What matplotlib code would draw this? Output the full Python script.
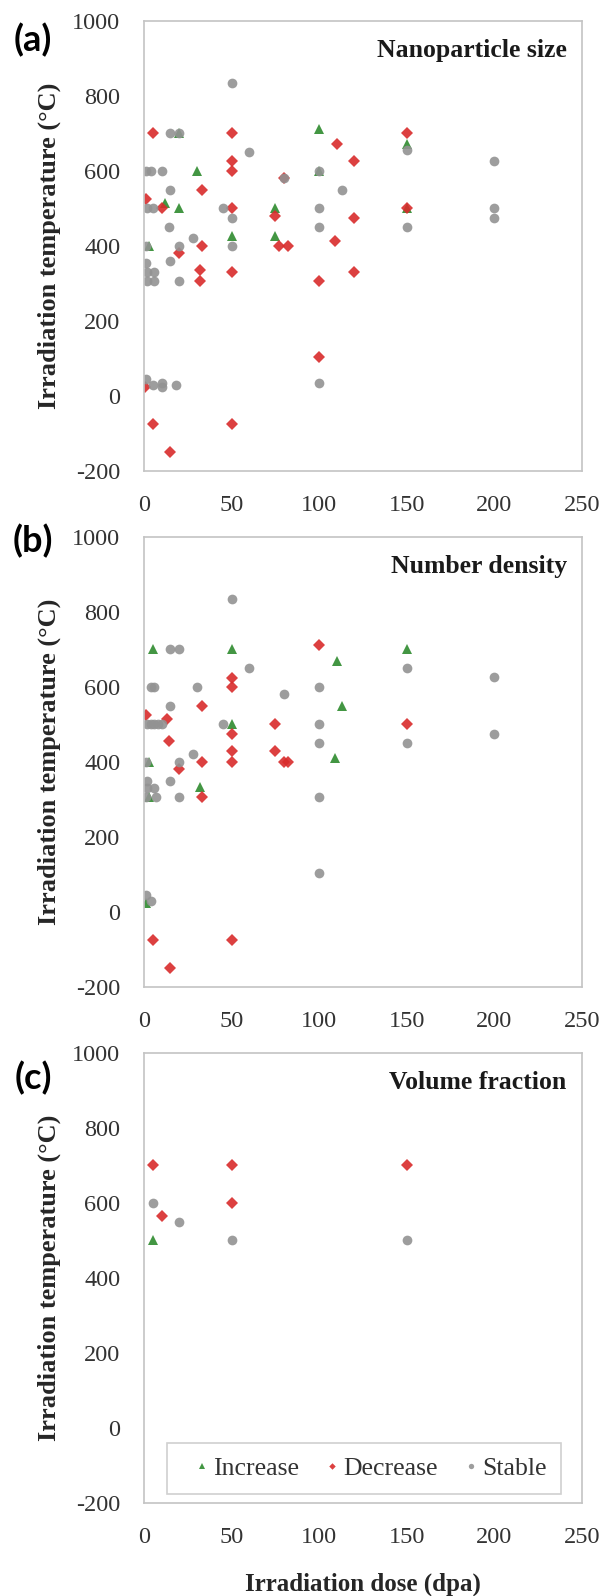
import matplotlib.pyplot as plt

plt.rcParams['axes.unicode_minus'] = False

# (a) Nanoparticle size
a_inc_dose = [20, 100, 30, 100, 12, 20, 75, 50, 75, 3, 150, 150]
a_inc_temp = [700, 710, 600, 600, 515, 500, 500, 425, 425, 400, 670, 500]
a_dec_dose = [5, 50, 110, 120, 50, 50, 33, 1, 10, 50, 75, 120, 109, 33, 77, 82, 20,
              32, 50, 120, 32, 100, 100, 0.5, 5, 50, 15, 150, 150, 80]
a_dec_temp = [700, 700, 670, 625, 625, 600, 550, 525, 500, 500, 480, 475, 412, 400, 400, 400, 380,
              335, 330, 330, 305, 305, 105, 25, -75, -75, -150, 700, 500, 580]
a_sta_dose = [50, 15, 20, 60, 1, 4, 10, 80, 100, 15, 113, 2, 5, 45, 50, 100, 14, 100, 28, 1,
              20, 50, 150, 200, 150, 200, 200, 1, 15, 2, 6, 2, 6, 20, 100, 1, 5, 10, 10, 18]
a_sta_temp = [835, 700, 700, 650, 600, 600, 600, 580, 600, 550, 550, 500, 500, 500, 475, 500, 450, 450, 420, 400,
              400, 400, 655, 625, 450, 500, 475, 355, 360, 330, 330, 305, 305, 305, 35, 45, 28, 35, 25, 28]

# (b) Number density
b_inc_dose = [5, 50, 110, 113, 50, 109, 3, 32, 3, 1, 150]
b_inc_temp = [700, 700, 668, 550, 500, 410, 400, 333, 305, 25, 700]
b_dec_dose = [100, 50, 50, 33, 1, 13, 50, 75, 14, 50, 75, 33, 50, 80, 82, 20, 33, 5, 50, 15, 150]
b_dec_temp = [710, 623, 600, 550, 525, 515, 475, 500, 455, 430, 430, 400, 400, 400, 400, 380, 305,
              -75, -75, -150, 500]
b_sta_dose = [50, 15, 20, 60, 4, 6, 30, 100, 80, 15, 2, 4, 6, 8, 10, 45, 100, 100, 28, 1, 20,
              2, 15, 2, 6, 1, 7, 20, 100, 100, 1, 4, 150, 200, 150, 200]
b_sta_temp = [835, 700, 700, 650, 600, 600, 600, 600, 580, 550, 500, 500, 500, 500, 500, 500, 500, 450, 420, 400, 400,
              350, 350, 330, 330, 305, 305, 305, 305, 105, 45, 28, 650, 625, 450, 475]

# (c) Volume fraction
c_inc_dose = [5]
c_inc_temp = [500]
c_dec_dose = [5, 50, 150, 50, 10]
c_dec_temp = [700, 700, 700, 600, 565]
c_sta_dose = [5, 20, 50, 150]
c_sta_temp = [600, 548, 500, 500]

titles = ['Nanoparticle size', 'Number density', 'Volume fraction']
letters = ['(a)', '(b)', '(c)']
x_ticks = [0, 50, 100, 150, 200, 250]
y_ticks = [-200, 0, 200, 400, 600, 800, 1000]

green = '#2e8b2e'
red = '#d92b2b'
grey = '#929292'
serif = 'Liberation Serif'

panels = [
    (a_inc_dose, a_inc_temp, a_dec_dose, a_dec_temp, a_sta_dose, a_sta_temp),
    (b_inc_dose, b_inc_temp, b_dec_dose, b_dec_temp, b_sta_dose, b_sta_temp),
    (c_inc_dose, c_inc_temp, c_dec_dose, c_dec_temp, c_sta_dose, c_sta_temp),
]
bottoms = [0.70489, 0.38158, 0.05827]
letter_y = [40, 541, 1078]

fig = plt.figure(figsize=(6.06, 15.96), dpi=100)

for i, p in enumerate(panels):
    ax = fig.add_axes([0.2376, bottoms[i], 0.7228, 0.2822])
    ax.plot(p[0], p[1], '^', color=green, ms=7.5, mew=0, alpha=0.9, label='Increase')
    ax.plot(p[2], p[3], 'D', color=red, ms=6, mew=0, alpha=0.9, label='Decrease')
    ax.plot(p[4], p[5], 'o', color=grey, ms=7, mew=0, alpha=0.9, label='Stable')
    ax.set_xlim(0, 250)
    ax.set_ylim(-200, 1000)
    ax.set_xticks(x_ticks)
    ax.set_yticks(y_ticks)
    ax.tick_params(length=0, labelsize=17.5, colors='#333333', pad=17)
    for lab in ax.get_xticklabels() + ax.get_yticklabels():
        lab.set_fontfamily(serif)
    for s in ax.spines.values():
        s.set_color('#c4c4c4')
        s.set_linewidth(1.2)
    ax.set_ylabel('Irradiation temperature (°C)', fontsize=19, fontweight='bold',
                  family=serif, color='#262626')
    ax.yaxis.set_label_coords(-0.19, 0.5)
    ax.text(0.965, 0.933, titles[i], transform=ax.transAxes, ha='right', va='center',
            fontsize=18.5, fontweight='bold', family=serif, color='#1a1a1a')
    fig.text(33 / 606, 1 - letter_y[i] / 1596, letters[i], ha='center', va='center',
             fontsize=26, fontweight='bold', family='Lato', color='black')
    if i == 2:
        ax.set_xlabel('Irradiation dose (dpa)', fontsize=18, fontweight='bold',
                      family=serif, color='#262626', labelpad=18)
        leg = ax.legend(loc='lower left', bbox_to_anchor=(0.0525, 0.02, 0.8995, 0.113),
                        mode='expand', ncol=3, frameon=True, fancybox=False,
                        markerscale=0.55, handlelength=1.6, handletextpad=-0.35,
                        borderpad=0.55, borderaxespad=0,
                        prop={'family': serif, 'size': 18.5})
        leg.get_frame().set_edgecolor('#c4c4c4')
        leg.get_frame().set_linewidth(1.2)
        for t in leg.get_texts():
            t.set_color('#333333')

fig.savefig('out.png', dpi=100)
